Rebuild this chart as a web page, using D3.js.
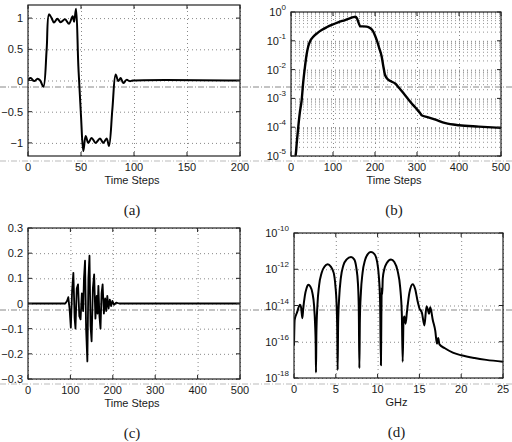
<!DOCTYPE html>
<html>
<head>
<meta charset="utf-8">
<script src="https://cdn.jsdelivr.net/npm/d3@7"></script>
<style>
  body { margin: 0; background: #fff; }
  text { font-family: "Liberation Sans", Arial, sans-serif; fill: #1a1a1a; }
  .cap { font-family: "Liberation Serif", "DejaVu Serif", serif; font-size: 15px; }
</style>
</head>
<body>
<script>
// panel (a): pulse, time steps vs amplitude
var aX = [0, 2.5, 6, 9, 11.5, 14.5, 17.6, 19.8, 22.3, 24.5, 27.7, 30.8, 34.9, 38.7, 42.1, 43.5, 45.3, 47.5, 50, 52.2, 54.4, 56.9, 60, 63.8, 67.9, 71, 74.2, 76.4, 79.6, 82.7, 85.2, 87.4, 89.9, 93, 96, 99, 200];
var aY = [0.01, 0.04, -0.01, 0.03, 0.0, -0.1, 0.5, 1.06, 1.0, 0.93, 0.99, 0.935, 0.98, 0.91, 1.03, 0.94, 1.15, 0.23, -0.57, -1.13, -0.89, -1.0, -0.92, -1.0, -0.93, -1.0, -0.93, -1.05, -0.46, 0.096, -0.01, 0.04, -0.04, 0.01, -0.01, 0, 0];

// panel (b): log magnitude vs time steps
var bX = [10, 11, 14, 17.4, 21, 25.4, 29, 33.3, 37, 41, 46, 53, 62, 73, 85, 97, 112, 128.6, 140, 148.4, 153, 157, 161, 165, 172, 180, 188, 194, 199, 204, 210, 216, 220, 224, 232, 240, 248, 258, 268, 281, 292, 301, 308, 311, 325, 342, 368, 400, 447, 500];
var bY = [1.0e-5, 1.07e-5, 3.2e-5, 1.05e-4, 3.2e-4, 8.7e-4, 3.5e-3, 1.26e-2, 3.2e-2, 6.3e-2, 1.0e-1, 1.38e-1, 1.82e-1, 2.37e-1, 2.95e-1, 3.55e-1, 4.37e-1, 5.25e-1, 6.0e-1, 6.6e-1, 6.8e-1, 6.0e-1, 4.2e-1, 3.16e-1, 3.16e-1, 3.1e-1, 2.8e-1, 2.3e-1, 1.66e-1, 1.07e-1, 5.6e-2, 2.8e-2, 1.26e-2, 6.5e-3, 4.4e-3, 3.8e-3, 3.3e-3, 2.24e-3, 1.5e-3, 8.7e-4, 5.6e-4, 4.0e-4, 3.0e-4, 2.6e-4, 2.24e-4, 1.86e-4, 1.38e-4, 1.17e-4, 1.05e-4, 9.5e-5];

// panel (c): oscillating burst
var cX = [0, 88, 92, 95, 98, 101, 104, 107, 110, 112, 115, 118, 121, 124, 127, 130, 132, 134.5, 137, 140, 142.5, 145, 147.5, 150, 153, 156, 159, 162, 164, 166, 168.5, 171, 173.5, 176, 179, 182, 184.5, 187, 190, 193, 196, 199, 203, 208, 215, 500];
var cY = [0, 0, 0.01, 0.025, -0.02, -0.096, 0.05, 0.122, -0.06, -0.1, 0.06, 0.076, -0.05, -0.063, 0.04, -0.03, 0.1, 0.17, -0.1, -0.23, 0.1, 0.19, -0.09, -0.15, 0.06, 0.116, -0.06, 0.03, -0.04, 0.07, -0.05, -0.1, 0.04, 0.076, -0.04, 0.02, -0.03, 0.03, -0.02, 0.015, -0.01, 0.01, -0.005, 0.003, 0, 0];

// panel (d): spectrum vs GHz
var dX = [0, 0.08, 0.35, 0.72, 0.85, 1.0, 1.1, 1.3, 1.5, 1.71, 1.95, 2.2, 2.4, 2.52, 2.6, 2.63, 2.68, 2.8, 3.0, 3.3, 3.65, 4.03, 4.4, 4.75, 4.95, 5.1, 5.17, 5.22, 5.28, 5.4, 5.6, 5.9, 6.3, 6.82, 7.2, 7.45, 7.65, 7.75, 7.82, 7.88, 8.0, 8.2, 8.5, 8.85, 9.2, 9.6, 9.95, 10.15, 10.3, 10.4, 10.45, 10.5, 10.55, 10.62, 10.8, 11.1, 11.6, 12.0, 12.4, 12.7, 12.9, 13.0, 13.1, 13.2, 13.35, 13.5, 13.8, 14.2, 14.5, 14.8, 15.0, 15.3, 15.6, 15.85, 16.0, 16.15, 16.3, 16.6, 16.9, 17.1, 17.25, 17.4, 18.0, 19.0, 20, 21.6, 23, 25];
var dY = [6.3e-17, 1.6e-15, 4.0e-15, 1.1e-14, 7.9e-15, 2.0e-15, 6.3e-15, 3.5e-14, 8.9e-14, 1.38e-13, 1.12e-13, 5.0e-14, 1.0e-14, 1.0e-15, 5.0e-17, 2.0e-18, 3.2e-16, 1.0e-14, 1.26e-13, 6.3e-13, 1.4e-12, 1.86e-12, 1.4e-12, 6.3e-13, 1.26e-13, 1.0e-14, 5.0e-16, 2.8e-18, 1.0e-15, 2.5e-14, 3.2e-13, 1.6e-12, 3.5e-12, 4.7e-12, 3.5e-12, 1.26e-12, 1.6e-13, 6.3e-15, 3.5e-18, 1.6e-15, 5.0e-14, 6.3e-13, 3.2e-12, 7.1e-12, 8.9e-12, 7.1e-12, 2.5e-12, 4.0e-13, 1.6e-14, 5.0e-18, 2.5e-15, 1.0e-13, 4.0e-14, 3.2e-13, 1.0e-12, 2.2e-12, 3.5e-12, 2.5e-12, 7.9e-13, 1.0e-13, 3.2e-15, 7.9e-18, 1.6e-15, 2.5e-15, 1.0e-15, 4.0e-15, 5.0e-14, 1.5e-13, 7.9e-14, 1.6e-14, 7.1e-15, 4.0e-15, 7.9e-16, 9.0e-15, 6.3e-15, 3.5e-15, 8.0e-15, 1.6e-15, 4.0e-16, 7.9e-17, 1.6e-16, 7.1e-17, 4.5e-17, 2.5e-17, 1.8e-17, 1.26e-17, 1.0e-17, 7.9e-18];

// ticks
var aXTicks = [0, 50, 100, 150, 200];
var aYTicks = [-1, -0.5, 0, 0.5, 1];
var bXTicks = [0, 100, 200, 300, 400, 500];
var bYExp = [0, -1, -2, -3, -4, -5];
var cXTicks = [0, 100, 200, 300, 400, 500];
var cYTicks = [-0.3, -0.2, -0.1, 0, 0.1, 0.2, 0.3];
var dXTicks = [0, 5, 10, 15, 20, 25];
var dYExp = [-10, -12, -14, -16, -18];

var svg = d3.select("body").append("svg")
  .attr("width", 512)
  .attr("height", 442);

// faint scanner lines in the reference
[87, 161, 310, 384].forEach(function(yy, i) {
  svg.append("line")
    .attr("x1", 0).attr("x2", 512).attr("y1", yy).attr("y2", yy)
    .attr("stroke", i % 2 ? "#bbb" : "#888")
    .attr("stroke-width", 1)
    .attr("stroke-dasharray", "6,2,1,2");
});

function drawPanel(p) {
  var g = svg.append("g");
  var x = d3.scaleLinear().domain(p.xDomain).range([p.left, p.right]);
  var y = (p.log ? d3.scaleLog() : d3.scaleLinear()).domain(p.yDomain).range([p.bottom, p.top]);

  // minor grid (log only)
  if (p.minor) {
    p.yTicks.forEach(function(t) {
      for (var k = 2; k <= 9; k++) {
        var v = k * t;
        if (v > p.yDomain[1] || v < p.yDomain[0]) continue;
        g.append("line")
          .attr("x1", p.left).attr("x2", p.right)
          .attr("y1", y(v)).attr("y2", y(v))
          .attr("stroke", "#777").attr("stroke-width", 0.8)
          .attr("stroke-dasharray", "1,3");
      }
    });
  }

  // major grid
  g.append("g")
    .attr("transform", "translate(0," + p.bottom + ")")
    .call(d3.axisBottom(x).tickValues(p.xTicks).tickSize(-(p.bottom - p.top)).tickFormat(""))
    .call(function(s) {
      s.select(".domain").remove();
      s.selectAll("line").attr("stroke", "#888").attr("stroke-dasharray", "1,3");
    });
  g.append("g")
    .attr("transform", "translate(" + p.left + ",0)")
    .call(d3.axisLeft(y).tickValues(p.yTicks).tickSize(-(p.right - p.left)).tickFormat(""))
    .call(function(s) {
      s.select(".domain").remove();
      s.selectAll("line").attr("stroke", "#888").attr("stroke-dasharray", "1,3");
    });

  // curve
  var pts = p.xs.map(function(d, i) { return [d, p.ys[i]]; });
  var clipId = "clip" + p.name;
  svg.append("clipPath").attr("id", clipId).append("rect")
    .attr("x", p.left).attr("y", p.top)
    .attr("width", p.right - p.left).attr("height", p.bottom - p.top);
  g.append("path")
    .datum(pts)
    .attr("clip-path", "url(#" + clipId + ")")
    .attr("fill", "none")
    .attr("stroke", "#000")
    .attr("stroke-width", p.sw)
    .attr("stroke-linejoin", "round")
    .attr("d", d3.line()
      .x(function(d) { return x(d[0]); })
      .y(function(d) { return y(d[1]); })
      .curve(p.curve));

  // box and inward ticks (bottom/left/top/right)
  var ticksG = g.append("g").attr("stroke", "#222").attr("stroke-width", 1);
  p.xTicks.forEach(function(t) {
    ticksG.append("line").attr("x1", x(t)).attr("x2", x(t)).attr("y1", p.bottom).attr("y2", p.bottom - 4);
    ticksG.append("line").attr("x1", x(t)).attr("x2", x(t)).attr("y1", p.top).attr("y2", p.top + 4);
  });
  p.yTicks.forEach(function(t) {
    ticksG.append("line").attr("x1", p.left).attr("x2", p.left + 4).attr("y1", y(t)).attr("y2", y(t));
    ticksG.append("line").attr("x1", p.right).attr("x2", p.right - 4).attr("y1", y(t)).attr("y2", y(t));
  });
  g.append("rect")
    .attr("x", p.left).attr("y", p.top)
    .attr("width", p.right - p.left).attr("height", p.bottom - p.top)
    .attr("fill", "none").attr("stroke", "#222").attr("stroke-width", 1.2);

  // tick labels
  p.xTicks.forEach(function(t) {
    g.append("text")
      .attr("x", x(t)).attr("y", p.bottom + 15)
      .attr("text-anchor", "middle")
      .style("font-size", "11px")
      .text(t);
  });
  p.yTicks.forEach(function(t, i) {
    var tx = g.append("text")
      .attr("x", p.left - 5).attr("y", y(t) + 4)
      .attr("text-anchor", "end")
      .style("font-size", "11px");
    if (p.log) {
      tx.append("tspan").text("10");
      tx.append("tspan").attr("dy", -6).style("font-size", "8px").text(p.yExp[i]);
    } else {
      tx.text(t === 0 ? "0" : String(t).replace("-", "\u2212"));
    }
  });

  g.append("text")
    .attr("x", (p.left + p.right) / 2 - 2).attr("y", p.bottom + 28)
    .attr("text-anchor", "middle")
    .style("font-size", "11px")
    .text(p.xLabel);

  g.append("text")
    .attr("class", "cap")
    .attr("x", (p.left + p.right) / 2 - 2).attr("y", p.bottom + 59)
    .attr("text-anchor", "middle")
    .text(p.caption);
}

drawPanel({
  name: "a", left: 28, right: 240, top: 5, bottom: 156,
  xDomain: [0, 200], yDomain: [-1.21, 1.21],
  xs: aX, ys: aY, xTicks: aXTicks, yTicks: aYTicks,
  curve: d3.curveCatmullRom.alpha(0.5), sw: 2,
  xLabel: "Time Steps", caption: "(a)"
});

drawPanel({
  name: "b", left: 291, right: 501, top: 12, bottom: 156, log: true, minor: true,
  xDomain: [0, 500], yDomain: [1e-5, 1],
  xs: bX, ys: bY, xTicks: bXTicks, yTicks: bYExp.map(function(e) { return Math.pow(10, e); }), yExp: bYExp,
  curve: d3.curveMonotoneX, sw: 2.4,
  xLabel: "Time Steps", caption: "(b)"
});

drawPanel({
  name: "c", left: 28, right: 240, top: 228, bottom: 379,
  xDomain: [0, 500], yDomain: [-0.3, 0.3],
  xs: cX, ys: cY, xTicks: cXTicks, yTicks: cYTicks,
  curve: d3.curveLinear, sw: 1.8,
  xLabel: "Time Steps", caption: "(c)"
});

drawPanel({
  name: "d", left: 294, right: 503, top: 233, bottom: 378, log: true,
  xDomain: [0, 25], yDomain: [1e-18, 1e-10],
  xs: dX, ys: dY, xTicks: dXTicks, yTicks: dYExp.map(function(e) { return Math.pow(10, e); }), yExp: dYExp,
  curve: d3.curveMonotoneX, sw: 2,
  xLabel: "GHz", caption: "(d)"
});
</script>
</body>
</html>
